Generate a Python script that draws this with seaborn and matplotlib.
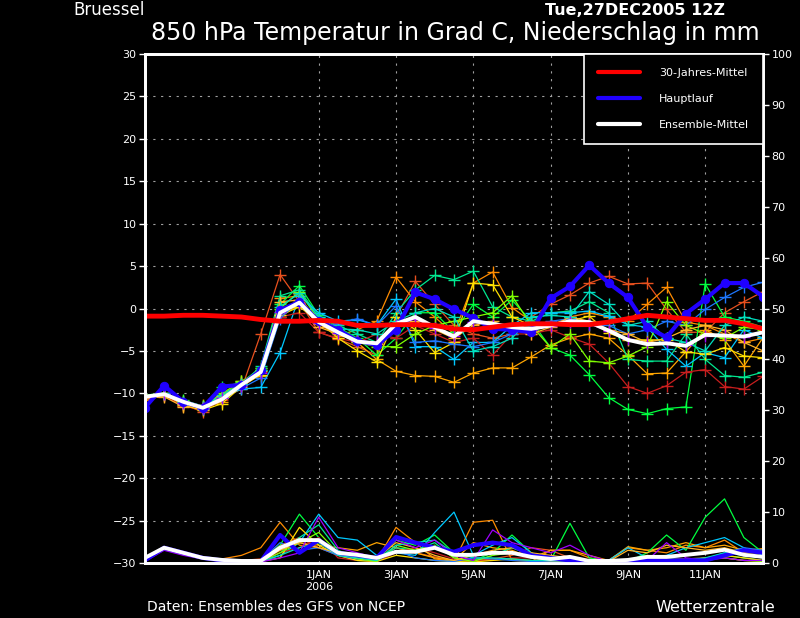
import numpy as np
import pandas as pd
import matplotlib
matplotlib.use("Agg")
import matplotlib.pyplot as plt
from matplotlib.lines import Line2D
import seaborn as sns

# time steps, 12 hourly
times = pd.date_range("2005-12-27 12:00", periods=33, freq="12h")

# 850 hPa temperature (deg C)
clim_mean = [-0.9, -0.9, -0.8, -0.8, -0.9, -1.0, -1.3, -1.5, -1.5, -1.4, -1.5, -2.0, -2.0, -1.9, -1.9, -2.0, -2.4,
             -2.5, -2.2, -1.9, -1.8, -1.8, -1.9, -1.9, -1.6, -1.2, -0.8, -1.0, -1.2, -1.4, -1.4, -1.8, -2.4]
main_run = [-11.7, -9.1, -11.0, -11.7, -9.2, -9.0, -7.3, -0.2, 0.8, -1.5, -2.5, -3.8, -4.3, -2.5, 1.9, 1.1, -0.1,
            -1.1, -2.4, -2.5, -2.8, 1.2, 2.6, 5.1, 3.0, 1.3, -2.2, -3.4, -0.6, 1.1, 3.0, 3.0, 1.4]
ens_mean = [-10.4, -10.1, -11.0, -11.7, -10.7, -9.0, -7.5, -0.5, 0.7, -1.6, -2.8, -3.9, -4.1, -1.8, -1.0, -2.2, -3.3,
            -1.5, -1.8, -2.2, -2.4, -2.0, -1.5, -1.6, -2.6, -3.7, -4.2, -4.1, -4.4, -3.1, -3.2, -3.3, -2.8]

member_colors = ["#e8501e", "#ff8c00", "#ffa500", "#00ff40", "#00e890", "#00c8ff", "#c81e1e",
                 "#ffe000", "#1e78ff", "#80ff00", "#ffb428", "#00e0c0", "#a000ff"]

members_t = [
    [-10.6, -10.3, -11.3, -12.2, -10.6, -9.5, -3.0, 4.0, 0.8, -2.8, -3.6, -4.5, -5.5, -1.0, 3.2, 0.5, -2.0,
     -3.0, -3.5, -3.0, -1.0, 0.5, 1.6, 3.0, 3.8, 2.9, 3.0, -0.1, -2.8, -2.8, -0.5, 0.8, 2.0],
    [-10.8, -10.2, -11.5, -11.4, -10.2, -8.8, -7.0, 1.2, 1.5, -1.8, -3.2, -2.5, -1.5, 3.7, 0.8, -1.0, -3.0,
     3.0, 4.3, 0.1, -1.5, -2.0, -1.0, -0.5, -1.0, -1.5, 0.5, 2.5, -1.6, -2.0, -3.0, -4.0, -3.5],
    [-10.5, -10.0, -11.2, -11.8, -11.0, -8.5, -8.0, -1.0, 0.5, -1.5, -2.5, -4.0, -6.0, -7.4, -7.9, -8.0, -8.7,
     -7.6, -7.0, -7.0, -5.7, -4.3, -3.5, -3.0, -3.5, -5.5, -7.7, -7.6, -5.1, -2.5, -3.7, -6.8, -3.4],
    [-10.2, -10.0, -10.8, -11.5, -9.3, -8.7, -7.0, 0.5, 2.7, -0.8, -2.2, -3.5, -5.5, -3.5, -0.5, -0.5, -2.8,
     0.5, -1.0, 1.0, -1.5, -4.6, -5.5, -7.8, -10.5, -11.9, -12.4, -11.8, -11.6, 2.9, -1.0, -1.5, -2.2],
    [-10.3, -10.1, -11.0, -11.6, -10.0, -9.0, -6.8, 1.5, 2.2, -1.0, -2.0, -3.0, -4.0, -0.5, 2.2, 3.9, 3.4,
     4.4, 0.2, -1.0, -1.5, -0.5, -0.3, 0.8, -0.5, -6.0, -6.2, -6.2, -3.0, -6.0, -7.9, -8.1, -7.5],
    [-10.4, -10.2, -11.1, -11.7, -10.5, -9.5, -9.3, -5.2, 1.5, -0.5, -1.5, -1.3, -2.0, 1.1, -4.5, -4.5, -6.0,
     -4.0, -4.0, -2.0, -0.5, -0.5, -0.5, -0.3, -0.9, -1.9, -2.2, -4.8, -6.8, -5.2, -5.8, -2.5, -3.5],
    [-10.5, -10.3, -11.5, -12.0, -10.8, -9.0, -7.5, -1.0, -0.5, -2.8, -3.5, -4.0, -3.0, -3.5, -2.0, -3.0, -4.0,
     -3.5, -5.5, -3.0, -3.0, -2.5, -3.4, -4.2, -6.4, -9.2, -10.0, -9.1, -7.5, -7.2, -9.2, -9.5, -8.0],
    [-10.4, -10.0, -11.4, -12.0, -11.2, -9.2, -7.8, -0.8, 0.2, -1.5, -3.5, -5.0, -6.3, -1.0, -2.5, -5.2, -4.0,
     3.0, 2.8, -1.0, -2.0, -2.0, -1.5, -0.9, -2.9, -3.7, -3.7, -3.7, -5.1, -5.4, -4.6, -5.6, -5.8],
    [-10.5, -10.1, -11.2, -11.8, -10.4, -9.4, -8.2, -1.2, 1.0, -1.2, -1.8, -1.2, -2.0, 0.3, -4.0, -3.8, -4.2,
     -4.5, -4.0, -3.0, -2.0, -1.5, -1.2, -2.0, -2.0, -3.0, -2.5, -1.5, -2.0, -0.1, 1.3, 2.5, 3.1],
    [-10.2, -10.1, -10.9, -11.5, -10.0, -8.6, -7.3, 0.0, 2.0, -1.4, -2.6, -4.0, -4.5, -4.5, -3.0, -2.0, -1.5,
     -1.0, -0.5, 1.5, -2.0, -4.6, -3.0, -6.2, -6.4, -5.6, -4.5, 0.8, -2.0, -3.0, -3.5, -2.2, -2.5],
    [-10.6, -10.4, -11.6, -11.6, -10.3, -8.8, -7.4, 0.8, 1.0, -2.2, -3.0, -3.8, -4.2, -2.0, -1.5, -2.5, -3.5,
     -2.0, -1.5, -2.5, -3.0, -2.2, -1.0, -1.5, -2.5, -3.0, -4.0, -3.5, -2.5, -2.0, -2.5, -4.0, -5.0],
    [-10.3, -10.0, -11.0, -11.6, -10.2, -8.9, -7.2, 0.2, 1.8, -1.0, -2.4, -2.5, -3.0, -1.5, -0.5, 0.0, -1.0,
     -5.0, -4.5, -3.5, -1.0, -0.8, -1.0, 2.0, 0.5, -2.0, -1.5, -3.5, -4.0, -5.0, -2.0, -1.0, -1.5],
    [-10.4, -10.1, -11.1, -11.7, -10.6, -9.1, -7.6, -0.4, 0.6, -1.7, -2.9, -3.8, -4.0, -2.0, -1.2, -2.3, -3.2,
     -1.6, -1.9, -2.3, -2.5, -2.1, -1.6, -1.8, -2.7, -3.6, -4.1, -4.0, -4.3, -3.2, -3.1, -3.4, -2.9],
]

# precipitation (mm)
main_prec = [0.5, 3.0, 2.0, 1.0, 0.5, 0.3, 0.3, 5.5, 2.0, 4.5, 2.0, 1.5, 1.0, 5.1, 4.0, 3.0, 2.2, 3.5, 4.0, 3.5,
             1.5, 1.0, 0.5, 0.3, 0.2, 0.2, 0.5, 0.5, 0.5, 0.5, 1.5, 2.5, 2.0]
mean_prec = [1.0, 3.0, 2.0, 1.0, 0.6, 0.4, 0.4, 3.0, 4.5, 4.5, 2.0, 1.6, 1.0, 2.2, 2.2, 3.0, 1.6, 1.6, 2.0, 2.0,
             1.2, 0.8, 1.2, 0.4, 0.4, 0.6, 1.2, 1.2, 1.6, 2.0, 2.6, 1.6, 1.2]
members_p = [
    [1.0, 3.0, 2.2, 1.0, 0.5, 0.5, 0.8, 3.5, 5.0, 3.0, 1.5, 1.0, 0.6, 3.0, 2.0, 1.2, 0.5, 0.5, 0.8, 1.5, 3.0, 2.5,
     1.0, 0.4, 0.2, 0.5, 1.0, 0.8, 0.6, 0.8, 1.0, 0.5, 0.3],
    [0.8, 3.2, 2.0, 1.0, 0.8, 1.5, 3.0, 8.0, 3.5, 3.0, 2.0, 1.0, 0.5, 7.0, 4.0, 0.8, 0.3, 8.0, 8.4, 0.5, 0.3, 2.5,
     2.5, 1.0, 0.5, 3.0, 2.5, 2.0, 3.5, 3.0, 4.5, 2.0, 2.8],
    [0.6, 2.8, 1.8, 0.8, 0.5, 0.4, 0.5, 2.5, 4.0, 3.5, 3.0, 2.5, 4.0, 3.0, 2.0, 1.0, 0.5, 4.0, 3.0, 2.5, 1.0, 2.5,
     2.5, 1.5, 0.5, 3.2, 2.5, 3.0, 4.0, 3.0, 3.5, 2.5, 2.8],
    [0.5, 3.0, 2.0, 1.0, 0.4, 0.3, 0.3, 3.5, 9.6, 5.0, 1.5, 0.5, 0.3, 4.5, 3.5, 5.5, 2.0, 0.5, 2.0, 5.5, 2.0, 0.5,
     7.8, 1.0, 0.3, 0.3, 2.0, 5.5, 2.5, 9.0, 12.6, 5.0, 2.0],
    [0.8, 2.9, 2.0, 1.0, 0.5, 0.3, 0.3, 2.0, 5.0, 7.5, 2.5, 1.0, 0.5, 3.0, 2.5, 4.0, 1.0, 0.3, 1.5, 3.0, 1.5, 0.5,
     1.0, 0.5, 0.3, 0.5, 1.0, 1.0, 0.8, 1.0, 1.5, 1.0, 0.5],
    [0.5, 3.0, 2.0, 1.0, 0.5, 0.3, 0.3, 1.5, 4.0, 9.6, 5.0, 4.5, 1.5, 2.0, 1.5, 6.0, 10.0, 1.5, 3.5, 5.0, 2.0, 0.5,
     0.5, 0.5, 0.5, 3.0, 1.0, 1.5, 3.0, 4.0, 5.0, 3.0, 1.5],
    [0.6, 2.8, 2.0, 1.0, 0.5, 0.4, 0.5, 2.0, 3.0, 5.0, 1.0, 0.5, 0.3, 2.0, 3.0, 2.0, 0.8, 0.5, 0.5, 1.0, 1.0, 0.5,
     0.3, 0.3, 0.2, 0.2, 0.5, 0.8, 0.8, 1.0, 1.0, 0.5, 0.5],
    [0.5, 2.8, 1.8, 0.8, 0.5, 0.3, 0.3, 1.0, 7.0, 3.5, 1.5, 0.5, 0.3, 1.5, 1.0, 0.5, 0.3, 0.2, 0.5, 0.8, 0.5, 0.3,
     0.2, 0.1, 0.1, 0.2, 0.3, 0.5, 0.5, 1.0, 1.5, 1.0, 0.5],
    [0.8, 3.0, 2.0, 1.0, 0.5, 0.3, 0.5, 4.0, 2.5, 3.0, 1.5, 0.8, 0.4, 2.5, 1.0, 0.5, 0.3, 1.0, 0.8, 0.5, 0.3, 0.2,
     0.2, 0.1, 0.1, 0.2, 0.5, 0.5, 0.5, 0.8, 2.0, 3.0, 2.5],
    [0.5, 2.9, 1.9, 0.9, 0.4, 0.3, 0.3, 2.0, 4.0, 6.0, 2.0, 0.8, 0.3, 3.5, 2.5, 3.5, 1.0, 0.3, 1.5, 2.0, 1.0, 0.5,
     0.5, 0.3, 0.2, 0.5, 1.5, 1.0, 0.5, 0.8, 1.0, 0.5, 0.3],
    [0.7, 3.0, 2.0, 1.0, 0.5, 0.4, 0.4, 2.5, 4.0, 3.0, 2.0, 1.5, 1.0, 4.0, 3.0, 1.5, 0.5, 1.5, 2.5, 3.0, 2.0, 1.5,
     1.0, 0.5, 0.3, 2.5, 2.0, 3.5, 3.0, 2.5, 3.0, 2.0, 2.0],
    [0.6, 2.9, 2.0, 1.0, 0.5, 0.3, 0.3, 1.5, 3.0, 4.0, 1.5, 1.0, 0.5, 3.5, 4.0, 4.5, 2.0, 1.0, 1.0, 0.8, 0.5, 0.5,
     0.5, 0.3, 0.2, 0.3, 0.5, 0.5, 0.5, 1.0, 2.0, 1.5, 1.0],
    [0.3, 2.5, 1.5, 0.8, 0.3, 0.2, 0.2, 1.0, 2.0, 9.0, 3.0, 2.0, 1.0, 4.5, 3.0, 4.5, 1.5, 0.5, 6.5, 4.0, 3.0, 2.0,
     3.5, 1.5, 0.3, 0.3, 0.5, 4.0, 1.0, 0.5, 1.0, 0.5, 0.5],
]

tick_dates = pd.to_datetime(["2006-01-01", "2006-01-03", "2006-01-05", "2006-01-07", "2006-01-09", "2006-01-11"])
tick_labels = ["1JAN\n2006", "3JAN", "5JAN", "7JAN", "9JAN", "11JAN"]

sns.set_theme(style="dark", rc={"axes.facecolor": "black", "figure.facecolor": "black",
                                "axes.edgecolor": "white", "text.color": "white",
                                "xtick.color": "white", "ytick.color": "white"})
plt.rcParams["font.family"] = ["DejaVu Sans"]

fig = plt.figure(figsize=(8, 6.18), dpi=100)
ax = fig.add_axes([0.181, 0.089, 0.773, 0.8236])
ax2 = ax.twinx()

for vals, c in zip(members_t, member_colors):
    sns.lineplot(x=times, y=vals, ax=ax, color=c, lw=0.9, marker="+", markersize=8, mew=1.0,
                 markeredgecolor=c, estimator=None)
sns.lineplot(x=times, y=main_run, ax=ax, color="#2000ff", lw=3, marker="o", markersize=6,
             markeredgecolor="#2000ff", estimator=None)
sns.lineplot(x=times, y=ens_mean, ax=ax, color="white", lw=2.8, estimator=None)
sns.lineplot(x=times, y=clim_mean, ax=ax, color="#ff0000", lw=3.5, estimator=None)

for vals, c in zip(members_p, member_colors):
    sns.lineplot(x=times, y=vals, ax=ax2, color=c, lw=0.9, estimator=None)
sns.lineplot(x=times, y=main_prec, ax=ax2, color="#2000ff", lw=3, estimator=None)
sns.lineplot(x=times, y=mean_prec, ax=ax2, color="white", lw=2.8, estimator=None)

ax.set_xlim(times[0], times[-1])
ax.set_ylim(-30, 30)
ax2.set_ylim(0, 100)
ax.set_yticks(range(-30, 31, 5))
ax2.set_yticks(range(0, 101, 10))
ax.set_xticks(tick_dates)
ax.set_xticklabels(tick_labels)
ax.set_xlabel("")
ax.set_ylabel("")
ax2.set_ylabel("")

ax.tick_params(axis="y", direction="out", length=4, width=1, labelsize=8, pad=2, colors="white")
ax2.tick_params(axis="y", direction="out", length=4, width=1, labelsize=8, pad=2, colors="white")
ax.tick_params(axis="x", length=0, labelsize=8, pad=5, colors="white")

ax.grid(True, color="#a0a0a0", linestyle=(0, (2, 5)), lw=0.8)
ax2.grid(False)
for a in (ax, ax2):
    for s in a.spines.values():
        s.set_color("white")
        s.set_linewidth(2)

handles = [Line2D([], [], color="#ff0000", lw=3),
           Line2D([], [], color="#2000ff", lw=3),
           Line2D([], [], color="white", lw=3)]
leg = ax2.legend(handles, ["30-Jahres-Mittel", "Hauptlauf", "Ensemble-Mittel"], loc="upper right",
                 bbox_to_anchor=(1, 1), borderaxespad=0, fontsize=8, labelcolor="white",
                 facecolor="black", edgecolor="white", framealpha=1, fancybox=False,
                 handlelength=3.8, handletextpad=1.7, labelspacing=1.45, borderpad=1.25)
leg.get_frame().set_linewidth(1.2)

fig.text(73 / 800, 1 - 1 / 618, "Bruessel", fontsize=12, color="white", ha="left", va="top")
fig.text(545 / 800, 1 - 3 / 618, "Tue,27DEC2005 12Z", fontsize=11.5, fontweight="bold", color="white",
         ha="left", va="top")
fig.text(455 / 800, 1 - 33 / 618, "850 hPa Temperatur in Grad C, Niederschlag in mm", fontsize=17,
         color="white", ha="center", va="center")
fig.text(147 / 800, 1 - 607 / 618, "Daten: Ensembles des GFS von NCEP", fontsize=10, color="white",
         ha="left", va="center")
fig.text(775 / 800, 1 - 607 / 618, "Wetterzentrale", fontsize=11.5, color="white", ha="right", va="center")

fig.savefig("out.png", dpi=100, facecolor="black")
